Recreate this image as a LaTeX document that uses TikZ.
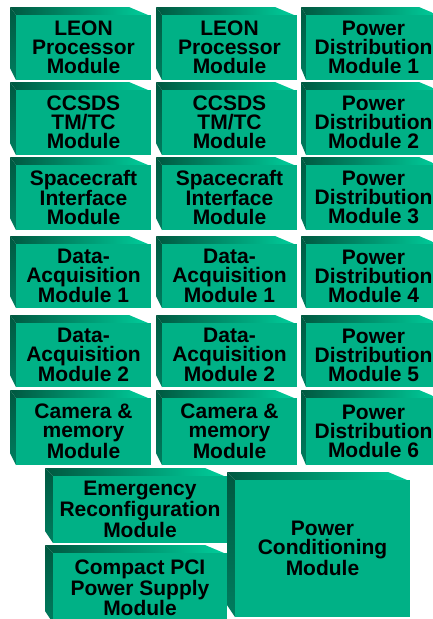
\documentclass[tikz,border=0pt]{standalone}
\usepackage{fontspec}
\setmainfont{Liberation Sans}
\begin{document}
\begin{tikzpicture}[x=1pt,y=-1pt,
  cardtext/.style={fill=facegreen, inner sep=0pt, align=center,
    font=\bfseries\fontsize{21}{19}\selectfont, text=black}]
\definecolor{facegreen}{RGB}{0,177,134}
\definecolor{deepgreen}{RGB}{0,88,64}
\definecolor{midgreen}{RGB}{0,125,95}
\definecolor{brightgreen}{RGB}{0,205,155}
\useasboundingbox (0,0) rectangle (433,619);
\clip (0,0) rectangle (433,619);
% stacked module card: [depth] name, front face x1 y1 x2 y2, label
\newcommand\stackcard[7][6]{%
  \shade[left color=deepgreen, right color=brightgreen]
    (#3-#1,#4-8) -- (#5-22,#4-8) -- (#5-3,#4) -- (#3,#4) -- cycle;
  \shade[top color=deepgreen, bottom color=midgreen]
    (#3-#1,#4-8) -- (#3,#4) -- (#3,#6) -- (#3-#1,#6-12) -- cycle;
  \node[cardtext, minimum width={(#5-#3)*1pt}, minimum height={(#6-#4)*1pt}]
    (#2) at ({(#3+#5)/2},{(#4+#6)/2}) {#7};
}
% column 1
\stackcard{leonA}{16}{15}{151}{80}{LEON\\Processor\\Module}
\stackcard{ccsdsA}{16}{90}{151}{155}{CCSDS\\TM/TC\\Module}
\stackcard{scA}{16}{165}{151}{230}{Spacecraft\\Interface\\Module}
\stackcard{daqA}{16}{244}{151}{308}{Data-\\Acquisition\\Module 1}
\stackcard{daqB}{16}{323}{151}{387}{Data-\\Acquisition\\Module 2}
\stackcard{camA}{16}{398}{151}{465}{Camera \&\\memory\\Module}
% column 2
\stackcard{leonB}{162}{15}{297}{80}{LEON\\Processor\\Module}
\stackcard{ccsdsB}{162}{90}{297}{155}{CCSDS\\TM/TC\\Module}
\stackcard{scB}{162}{165}{297}{230}{Spacecraft\\Interface\\Module}
\stackcard{daqC}{162}{244}{297}{308}{Data-\\Acquisition\\Module 1}
\stackcard{daqD}{162}{323}{297}{387}{Data-\\Acquisition\\Module 2}
\stackcard{camB}{162}{398}{297}{465}{Camera \&\\memory\\Module}
% column 3
\stackcard[5]{pd1}{306}{15}{441}{80}{Power\\Distribution\\Module 1}
\stackcard[5]{pd2}{306}{90}{441}{155}{Power\\Distribution\\Module 2}
\stackcard[5]{pd3}{306}{165}{441}{230}{Power\\Distribution\\Module 3}
\stackcard[5]{pd4}{306}{244}{441}{308}{Power\\Distribution\\Module 4}
\stackcard[5]{pd5}{306}{323}{441}{387}{Power\\Distribution\\Module 5}
\stackcard[5]{pd6}{306}{398}{441}{465}{Power\\Distribution\\Module 6}
% bottom group
\stackcard[8]{erm}{53}{476}{227}{543}{Emergency\\Reconfiguration\\Module}
\stackcard[8]{cpci}{53}{553}{227}{623}{Compact PCI\\Power Supply\\Module}
\stackcard[8]{pcm}{235}{480}{410}{617}{Power\\Conditioning\\Module}
\end{tikzpicture}
\end{document}
